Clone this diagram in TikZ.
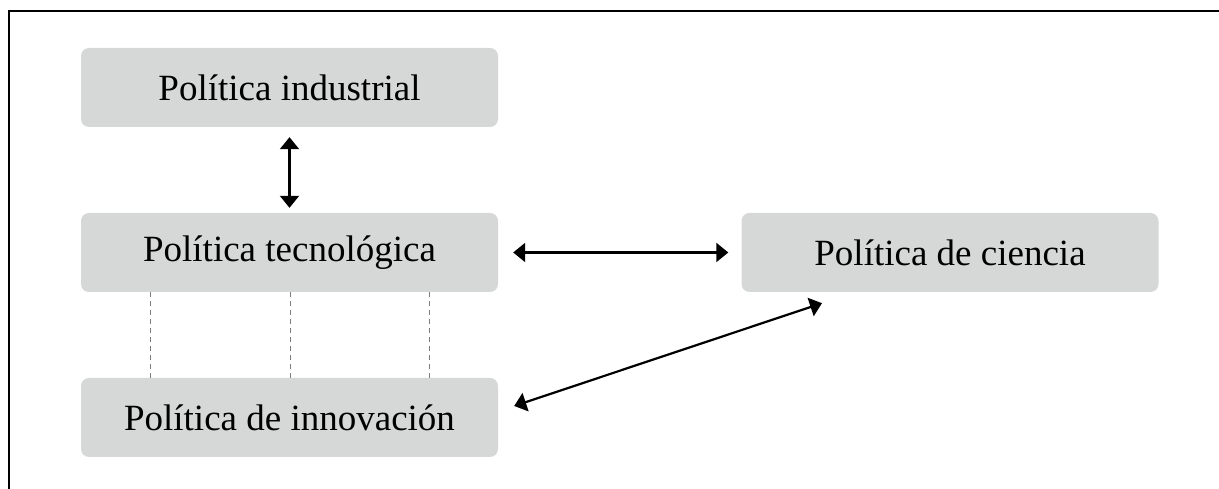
\documentclass[tikz,border=0pt]{standalone}
\usepackage{fontspec}
\setmainfont{Liberation Serif}
\usepackage{tikz}
\definecolor{boxgray}{RGB}{214,215,215}
\definecolor{dashgray}{RGB}{125,125,125}
\usetikzlibrary{arrows.meta}
\usetikzlibrary{calc}

\tikzset{policybox/.style={rectangle, rounded corners=8pt, fill=boxgray, minimum width=417pt, minimum height=79pt, inner sep=0pt, font=\fontsize{37}{44}\selectfont},
	twoway/.style={{Triangle[width=19pt,length=12pt]}-{Triangle[width=19pt,length=12pt]}, line width=2.2pt}}

\begin{document}
\begin{tikzpicture}[x=1pt, y=1pt]
	\useasboundingbox (0,0) rectangle (1219,489);
	% frame, top and left only
	\draw[line width=2pt] (1219,478) -- (9,478) -- (9,0);
	% policy boxes
	\node[policybox] (ind) at (289.5,401.5) {Política industrial};
	\node[policybox] (tec) at (289.5,236.5) {Política tecnológica};
	\node[policybox] (inn) at (289.5,71.5) {Política de innovación};
	\node[policybox] (cie) at (950,236.5) {Política de ciencia};
	% arrows
	\draw[twoway, shorten <=10pt, shorten >=5pt] (ind) -- (tec);
	\draw[twoway, shorten <=15pt, shorten >=13pt] (tec) -- (cie);
	\draw[twoway] ($(inn.east)+(16,11.5)$) -- ($(cie.south)+(-128,-11)$);
	% dashed links
	\foreach \dx in {-139.5,0.5,139.5}
		\draw[dashgray, dash pattern=on 5pt off 4pt, line width=1pt] ($(tec.south)+(\dx,0)$) -- ($(inn.north)+(\dx,0)$);
\end{tikzpicture}
\end{document}
